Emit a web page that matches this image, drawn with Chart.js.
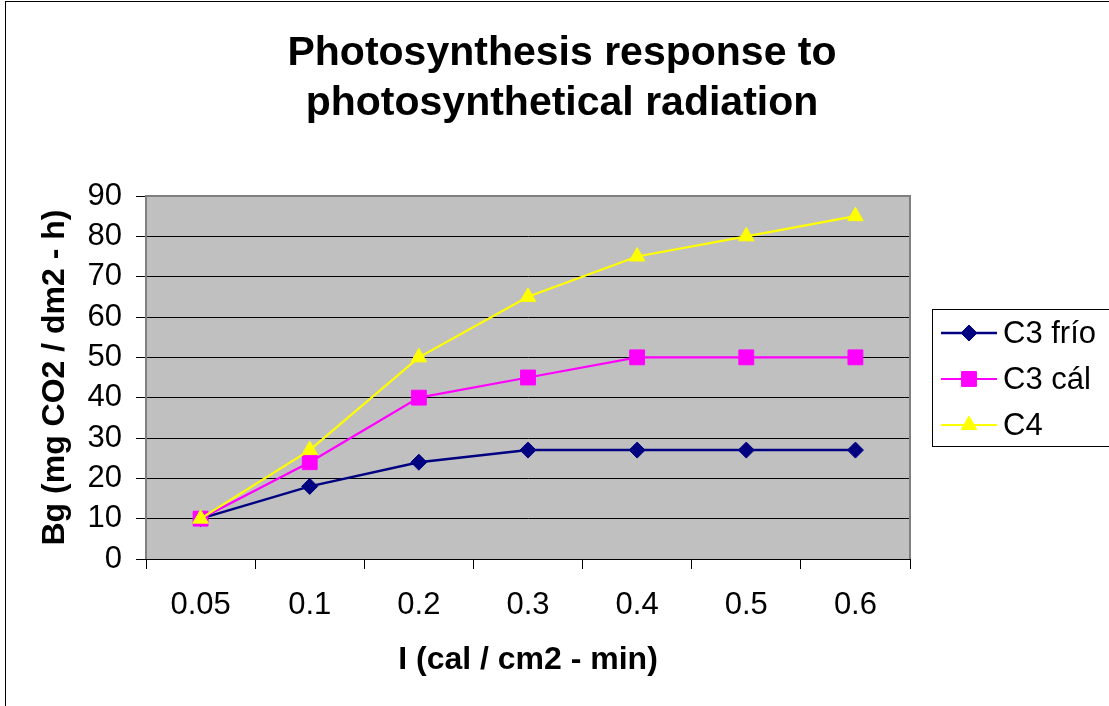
<!DOCTYPE html>
<html>
<head>
<meta charset="utf-8">
<script src="https://cdn.jsdelivr.net/npm/chart.js@4/dist/chart.umd.min.js"></script>
<style>
  html, body { margin: 0; padding: 0; background: #fff; }
  canvas { display: block; }
</style>
</head>
<body>
<canvas id="photoChart" width="1109" height="706"></canvas>
<script>
// Irradiance categories and assimilation rates
const irradiance = ["0.05", "0.1", "0.2", "0.3", "0.4", "0.5", "0.6"];
const c3Cold = [10, 18, 24, 27, 27, 27, 27];
const c3Warm = [10, 24, 40, 45, 50, 50, 50];
const c4 = [10, 27, 50, 65, 75, 80, 85];
const yTicks = [0, 10, 20, 30, 40, 50, 60, 70, 80, 90];

const FONT = "'Liberation Sans', Arial, sans-serif";
Chart.defaults.font.family = FONT;
Chart.defaults.color = "#000";

// Gray plot background, plot frame and outer chart border
const plotFrame = {
  id: "plotFrame",
  beforeDraw(chart) {
    const { ctx, chartArea: a } = chart;
    ctx.save();
    ctx.fillStyle = "#fff";
    ctx.fillRect(0, 0, chart.width, chart.height);
    ctx.strokeStyle = "#000";
    ctx.lineWidth = 1;
    ctx.strokeRect(5.5, 1.5, chart.width + 20, chart.height + 20);
    ctx.fillStyle = "#c0c0c0";
    ctx.fillRect(a.left, a.top, a.right - a.left, a.bottom - a.top);
    ctx.restore();
  },
  afterDatasetsDraw(chart) {
    const { ctx, chartArea: a } = chart;
    ctx.save();
    ctx.strokeStyle = "#808080";
    ctx.lineWidth = 2;
    ctx.beginPath();
    ctx.moveTo(a.left, a.bottom);
    ctx.lineTo(a.left, a.top);
    ctx.lineTo(a.right, a.top);
    ctx.lineTo(a.right, a.bottom);
    ctx.stroke();
    ctx.strokeStyle = "#000";
    ctx.lineWidth = 1;
    ctx.beginPath();
    ctx.moveTo(a.left - 1, a.bottom + 0.5);
    ctx.lineTo(a.right + 1, a.bottom + 0.5);
    ctx.stroke();
    ctx.restore();
  },
};

// Boxed legend with line + marker samples
const boxLegend = {
  id: "boxLegend",
  afterDraw(chart) {
    const { ctx } = chart;
    const box = { x: 932.5, y: 309.5, w: 200, h: 137 };
    ctx.save();
    ctx.strokeStyle = "#000";
    ctx.lineWidth = 1;
    ctx.strokeRect(box.x, box.y, box.w, box.h);
    ctx.font = "31px " + FONT;
    ctx.textBaseline = "middle";
    ctx.textAlign = "left";
    chart.data.datasets.forEach((ds, i) => {
      const y = 333 + i * 46;
      ctx.strokeStyle = ds.borderColor;
      ctx.lineWidth = ds.borderWidth;
      ctx.beginPath();
      ctx.moveTo(941, y);
      ctx.lineTo(997, y);
      ctx.stroke();
      ctx.fillStyle = ds.pointBackgroundColor;
      ctx.strokeStyle = ds.pointBorderColor;
      ctx.lineWidth = 1;
      Chart.helpers.drawPoint(ctx, {
        pointStyle: ds.pointStyle,
        radius: ds.pointRadius,
        borderWidth: 1,
        rotation: 0,
      }, 969, y);
      ctx.fillStyle = "#000";
      ctx.fillText(ds.label, 1003, y + 1);
    });
    ctx.restore();
  },
};

function series(label, data, color, style, radius, width, order) {
  return {
    label,
    data,
    borderColor: color,
    backgroundColor: color,
    borderWidth: width,
    pointStyle: style,
    pointRadius: radius,
    pointHoverRadius: radius,
    pointBackgroundColor: color,
    pointBorderColor: color,
    pointBorderWidth: 1,
    tension: 0,
    order,
  };
}

const ctx = document.getElementById("photoChart").getContext("2d");
const chart = new Chart(ctx, {
  type: "line",
  data: {
    labels: irradiance,
    datasets: [
      series("C3 frío", c3Cold, "#000080", "rectRot", 8, 2.5, 2),
      series("C3 cál", c3Warm, "#ff00ff", "rect", 10.5, 2.2, 1),
      series("C4", c4, "#ffff00", "triangle", 9, 2.2, 0),
    ],
  },
  options: {
    responsive: false,
    animation: false,
    devicePixelRatio: 1,
    layout: { padding: { left: 15, right: 0, top: 0, bottom: 0 } },
    plugins: {
      legend: { display: false },
      tooltip: { enabled: false },
      title: {
        display: true,
        text: ["Photosynthesis response to", "photosynthetical radiation"],
        color: "#000",
        font: { size: 41, weight: "bold", lineHeight: "50px" },
        padding: { top: 29, bottom: 67 },
      },
    },
    scales: {
      x: {
        offset: true,
        afterFit(scale) { scale.height = 147; },
        grid: {
          offset: true,
          drawOnChartArea: false,
          drawTicks: true,
          tickLength: 10,
          tickColor: "#000",
          color: "#000",
        },
        border: { color: "#000", width: 1 },
        ticks: { font: { size: 31 }, color: "#000", padding: 18, maxRotation: 0 },
        title: {
          display: true,
          text: "I (cal / cm2 - min)",
          color: "#000",
          font: { size: 32, weight: "bold" },
          padding: { top: 27, bottom: 27 },
        },
      },
      y: {
        min: 0,
        max: 90,
        afterFit(scale) { scale.width = 131; },
        afterBuildTicks(scale) { scale.ticks = yTicks.map((v) => ({ value: v })); },
        grid: {
          color: "#000",
          lineWidth: 1,
          drawTicks: true,
          tickLength: 10,
          tickColor: "#000",
        },
        border: { color: "#808080", width: 2 },
        ticks: { font: { size: 31 }, color: "#000", padding: 14 },
        title: {
          display: true,
          text: "Bg (mg CO2 / dm2 - h)",
          color: "#000",
          font: { size: 32, weight: "bold" },
          padding: { top: 21, bottom: 21 },
        },
      },
      // empty right-hand axis reserving room for the legend box
      legendSpace: {
        type: "linear",
        position: "right",
        afterFit(scale) { scale.width = 199; },
        grid: { drawOnChartArea: false, drawTicks: false },
        border: { display: false },
        ticks: { display: false },
      },
    },
  },
  plugins: [plotFrame, boxLegend],
});
</script>
</body>
</html>
